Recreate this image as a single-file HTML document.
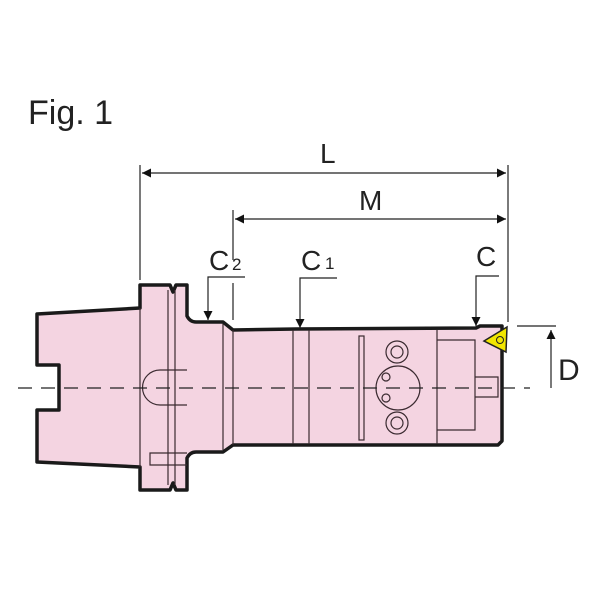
<!DOCTYPE html>
<html><head><style>body{margin:0;background:#fff}svg{display:block}</style></head><body>
<svg width="600" height="600" viewBox="0 0 600 600" xmlns="http://www.w3.org/2000/svg" font-family="Liberation Sans, sans-serif">
<defs><marker id="a" viewBox="0 0 10 10" refX="10" refY="5" markerWidth="16" markerHeight="9" orient="auto-start-reverse" markerUnits="userSpaceOnUse"><path d="M0,0 L10,5 L0,10z" fill="#111"/></marker></defs>
<text x="28" y="124" font-size="34" fill="#222">Fig. 1</text>
<g stroke="#222" stroke-width="1.2" fill="none">
<line x1="140" y1="165" x2="140" y2="280"/>
<line x1="508" y1="165" x2="508" y2="322"/>
<line x1="233" y1="210" x2="233" y2="260"/>
<line x1="233" y1="283" x2="233" y2="320"/>
<line x1="142" y1="173" x2="506" y2="173" marker-start="url(#a)" marker-end="url(#a)"/>
<line x1="235" y1="219" x2="506" y2="219" marker-start="url(#a)" marker-end="url(#a)"/>
<polyline points="245,277 208,277 208,320" marker-end="url(#a)"/>
<polyline points="337,278 300,278 300,328" marker-end="url(#a)"/>
<polyline points="499,276 476,276 476,326" marker-end="url(#a)"/>
<line x1="517" y1="326" x2="556" y2="326"/>
<line x1="551" y1="388" x2="551" y2="330" marker-end="url(#a)"/>
</g>
<text x="320" y="163" font-size="28" fill="#222">L</text>
<text x="359" y="210" font-size="28" fill="#222">M</text>
<text x="209" y="270" font-size="28" fill="#222">C</text><text x="232" y="270" font-size="17" fill="#222">2</text>
<text x="301" y="270" font-size="28" fill="#222">C</text><text x="325" y="269" font-size="17" fill="#222">1</text>
<text x="476" y="266" font-size="28" fill="#222">C</text>
<text x="558" y="380" font-size="30" fill="#222">D</text>
<g fill="#f4d4e1" stroke="#1a1a1a" stroke-width="3.5" stroke-linejoin="round">
<path d="M37,314 L140,308 L140,285 L170,285 L173,292 L176,285 L187,285 L187,316 Q190,322 196,322 L223,322 L233,330 L296,329 L476,328 L480,326 L502,326 L502,441 L498,445 L296,445 L233,445 L223,452 L196,452 Q190,452 187,458 L187,490 L176,490 L173,483 L170,490 L140,490 L140,467 L37,462 L37,410 L59,410 L59,365 L37,365 Z"/>
</g>
<g stroke="#3a2a30" stroke-width="1.2" fill="none">
<line x1="140" y1="308" x2="140" y2="467"/>
<line x1="168" y1="290" x2="168" y2="485"/>
<line x1="175" y1="290" x2="175" y2="485"/>
<path d="M187,370 L160,370 A17,17 0 0 0 160,405 L187,405"/>
<path d="M187,453 L150,453 L150,465 L187,465"/>
<line x1="223" y1="324" x2="223" y2="450"/>
<line x1="233" y1="330" x2="233" y2="445"/>
<line x1="293" y1="330" x2="293" y2="444"/>
<line x1="309" y1="330" x2="309" y2="444"/>
<rect x="359" y="336" width="5" height="104"/>
<line x1="437" y1="330" x2="437" y2="444"/>
<path d="M437,340 L475,340 L475,430 L437,430"/>
<path d="M475,377 L498,377 L498,397 L475,397"/>
<circle cx="397" cy="352" r="11"/><circle cx="397" cy="352" r="6"/>
<circle cx="397" cy="423" r="11"/><circle cx="397" cy="423" r="6"/>
<circle cx="398" cy="388" r="22"/>
<circle cx="386" cy="377" r="4"/><circle cx="386" cy="398" r="4"/>
</g>
<polygon points="484,341 507,327 506,352" fill="#f2e600" stroke="#222" stroke-width="1.5"/>
<circle cx="500" cy="340" r="3.5" fill="none" stroke="#222" stroke-width="1"/>
<line x1="18" y1="388" x2="530" y2="388" stroke="#222" stroke-width="1.2" stroke-dasharray="14,9"/>
</svg>
</body></html>
